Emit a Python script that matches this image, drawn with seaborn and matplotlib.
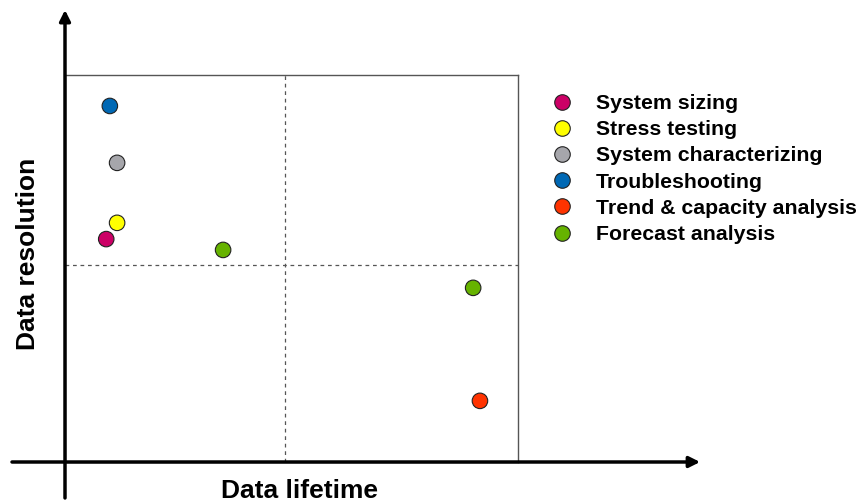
import numpy as np
import pandas as pd
import matplotlib
matplotlib.use("Agg")
import matplotlib.pyplot as plt
import seaborn as sns

# data (box spans 0..10 on both axes)
tasks = ["System sizing", "Stress testing", "System characterizing",
         "Troubleshooting", "Trend & capacity analysis", "Forecast analysis"]
colors = ["#CC0066", "#FFFF00", "#A6A6AB", "#0068B4", "#FF3300", "#66B300"]

point_task = ["Troubleshooting", "System characterizing", "Stress testing",
              "System sizing", "Forecast analysis", "Forecast analysis",
              "Trend & capacity analysis"]
lifetime = [0.99, 1.15, 1.15, 0.91, 3.49, 9.01, 9.16]
resolution = [9.20, 7.73, 6.18, 5.76, 5.48, 4.50, 1.58]

split_x = 4.86
split_y = 5.09

df = pd.DataFrame({"task": point_task, "lifetime": lifetime, "resolution": resolution})

sns.set_style("white")
plt.rcParams["font.family"] = ["Liberation Sans", "DejaVu Sans"]
plt.rcParams["font.weight"] = "bold"
plt.rcParams["text.color"] = "black"

fig = plt.figure(figsize=(8.61, 5.03), dpi=100)
ax = fig.add_axes([65 / 861, 41 / 503, 453 / 861, 387 / 503])

sns.scatterplot(data=df, x="lifetime", y="resolution", hue="task",
                hue_order=tasks, palette=colors, s=125,
                edgecolor="#222222", linewidth=0.8, ax=ax, zorder=5)

ax.set_xlim(0, 10)
ax.set_ylim(0, 10)
ax.set_xticks([])
ax.set_yticks([])
ax.set_xlabel("")
ax.set_ylabel("")
for sp in ax.spines.values():
    sp.set_color("#555555")
    sp.set_linewidth(1.0)

# quadrant split lines
ax.axvline(split_x, color="#555555", lw=0.9, ls=(0, (3, 3)))
ax.axhline(split_y, color="#555555", lw=0.9, ls=(0, (3, 3)))

# axis arrows
arrow = dict(arrowstyle="-|>", lw=2.5, color="black", mutation_scale=16,
             shrinkA=0, shrinkB=0)
ax.annotate("", xy=(0, 1.168), xytext=(0, -0.093), xycoords="axes fraction",
            arrowprops=arrow, annotation_clip=False)
ax.annotate("", xy=(1.402, 0), xytext=(-0.117, 0), xycoords="axes fraction",
            arrowprops=arrow, annotation_clip=False)

ax.text(0.517, -0.075, "Data lifetime", transform=ax.transAxes, color="black",
        ha="center", va="center", fontsize=19, fontweight="bold")
ax.text(-0.082, 0.537, "Data resolution", transform=ax.transAxes, color="black",
        ha="center", va="center", rotation=90, fontsize=19, fontweight="bold")

leg = ax.legend(loc="upper left", bbox_to_anchor=(551 / 861, 1 - 94 / 503),
                bbox_transform=fig.transFigure, frameon=False, fontsize=15.3,
                handlelength=1.0, handletextpad=1.1, labelspacing=0.34,
                borderpad=0, borderaxespad=0)
for t in leg.get_texts():
    t.set_fontweight("bold")
    t.set_color("black")

fig.savefig("out.png", dpi=100)
